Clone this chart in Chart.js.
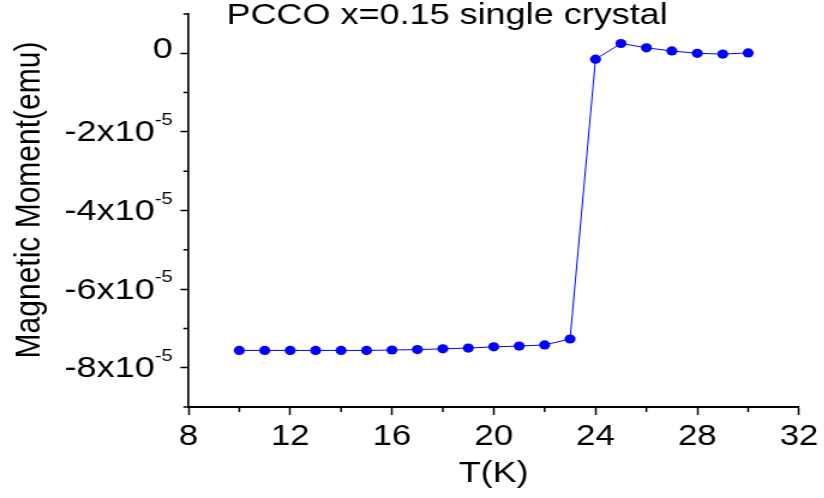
<!DOCTYPE html>
<html>
<head>
<meta charset="utf-8">
<title>PCCO x=0.15 single crystal</title>
<script src="https://cdn.jsdelivr.net/npm/chart.js@4.4.6/dist/chart.umd.min.js"></script>
<style>
    html, body { margin: 0; padding: 0; background: #fff; overflow: hidden; }
    /* the original figure is stretched sideways, so the whole canvas is too */
    #wrap { width: 687px; height: 498px; transform: scaleX(1.2); transform-origin: 0 0; }
</style>
</head>
<body>
<div id="wrap"><canvas id="myChart" width="687" height="498"></canvas></div>
<script>
const temperature = [10, 11, 12, 13, 14, 15, 16, 17, 18, 19, 20, 21, 22, 23, 24, 25, 26, 27, 28, 29, 30]
const moment = [-7.56e-5, -7.56e-5, -7.56e-5, -7.56e-5, -7.56e-5, -7.56e-5, -7.55e-5, -7.54e-5, -7.52e-5, -7.50e-5, -7.47e-5,
    -7.45e-5, -7.42e-5, -7.27e-5, -0.15e-5, 0.25e-5, 0.14e-5, 0.06e-5, 0.0, -0.02e-5, 0.01e-5]
const xMajorTicks = [8, 12, 16, 20, 24, 28, 32]
const xMinorTicks = [10, 14, 18, 22, 26, 30]
const yMajorTicks = [0, -2e-5, -4e-5, -6e-5, -8e-5]
const yMinorTicks = [1e-5, -1e-5, -3e-5, -5e-5, -7e-5, -9e-5]
const yTickExponent = "-5"
const titleText = "PCCO x=0.15 single crystal"
const xTitle = "T(K)"
const yTitle = "Magnetic Moment(emu)"

const FONT = "'Liberation Sans', Arial, sans-serif"

const extras = {
    id: "extras",
    afterDraw(chart) {
        const { ctx, chartArea, scales: { x, y } } = chart
        ctx.save()
        // minor ticks
        ctx.strokeStyle = "#000"
        ctx.lineWidth = 1.5
        ctx.beginPath()
        xMinorTicks.forEach(v => {
            const px = x.getPixelForValue(v)
            ctx.moveTo(px, chartArea.bottom)
            ctx.lineTo(px, chartArea.bottom + 5)
        })
        yMinorTicks.forEach(v => {
            const py = y.getPixelForValue(v)
            ctx.moveTo(chartArea.left, py)
            ctx.lineTo(chartArea.left - 4.2, py)
        })
        ctx.stroke()

        ctx.fillStyle = "#000"
        // y tick labels with superscript exponent
        const right = 144
        ctx.textBaseline = "alphabetic"
        ctx.textAlign = "right"
        yMajorTicks.forEach(v => {
            const py = y.getPixelForValue(v)
            if (v === 0) {
                ctx.font = `30px ${FONT}`
                ctx.fillText("0", right, py + 5)
                return
            }
            ctx.font = `17px ${FONT}`
            const supW = ctx.measureText(yTickExponent).width
            ctx.fillText(yTickExponent, right, py - 7)
            ctx.font = `30px ${FONT}`
            ctx.fillText(`${Math.round(v / 1e-5)}x10`, right - supW, py + 9.5)
        })

        // title
        ctx.textAlign = "center"
        ctx.font = `30px ${FONT}`
        ctx.fillText(titleText, 372.5, 24)

        // y axis title
        ctx.translate(33, 200)
        ctx.rotate(-Math.PI / 2)
        ctx.font = `30px ${FONT}`
        ctx.fillText(yTitle, 0, 0)
        ctx.restore()
    }
}

const config = {
    type: "scatter",
    data: {
        datasets: [{
            data: temperature.map((t, i) => ({ x: t, y: moment[i] })),
            showLine: true,
            borderColor: "#0000ff",
            backgroundColor: "#0000ff",
            borderWidth: 1,
            pointRadius: 4.6,
            pointBorderWidth: 0,
            tension: 0,
        }],
    },
    options: {
        responsive: false,
        animation: false,
        events: [],
        layout: { padding: { top: 14, right: 19, left: 0, bottom: 0 } },
        plugins: {
            legend: { display: false },
            tooltip: { enabled: false },
        },
        scales: {
            x: {
                type: "linear",
                min: 8,
                max: 32,
                afterBuildTicks: s => { s.ticks = xMajorTicks.map(v => ({ value: v })) },
                afterFit: s => { s.height = 91 },
                grid: { drawOnChartArea: false, tickLength: 8, tickWidth: 1.5, tickColor: "#000" },
                border: { color: "#000", width: 2 },
                ticks: { color: "#000", font: { family: FONT, size: 29 }, padding: 5, maxRotation: 0, autoSkip: false },
                title: { display: true, text: xTitle, color: "#000", font: { family: FONT, size: 30 }, padding: { top: 0, bottom: 6 } },
            },
            y: {
                type: "linear",
                min: -9e-5,
                max: 1e-5,
                afterBuildTicks: s => { s.ticks = yMajorTicks.map(v => ({ value: v })) },
                afterFit: s => { s.width = 157 },
                grid: { drawOnChartArea: false, tickLength: 6.7, tickWidth: 1.5, tickColor: "#000" },
                border: { color: "#000", width: 1.7 },
                ticks: { display: false },
            },
        },
    },
    plugins: [extras],
}

new Chart(document.getElementById("myChart"), config)
</script>
</body>
</html>
